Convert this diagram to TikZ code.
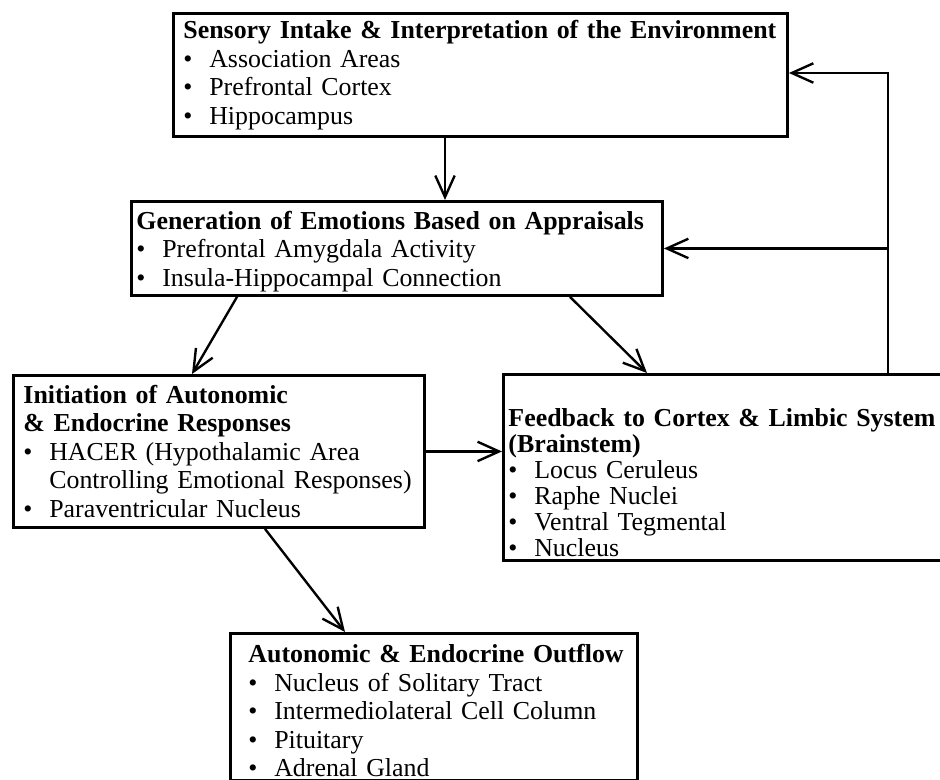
\documentclass[tikz,border=0pt]{standalone}
\usepackage{fontspec}
\setmainfont{Liberation Serif}
\usetikzlibrary{positioning,arrows.meta,calc}
\newlength\px
\setlength\px{0.4637pt}
\newcommand\itm{\makebox[12pt][l]{\textbullet}}
\newcommand\boxfont{\fontsize{12}{13.2}\selectfont\hyphenpenalty=10000 \exhyphenpenalty=10000 }
\newcommand\fbfont{\fontsize{12}{12}\selectfont\hyphenpenalty=10000 \exhyphenpenalty=10000 }

\begin{document}
\begin{tikzpicture}[x=1\px,y=-1\px,>={Straight Barb[length=10pt,width=9pt]},
  box/.style={draw,line width=1.35pt,anchor=north west,align=left,inner xsep=5\px,inner ysep=0pt,font=\boxfont},
  link/.style={->,line width=1.1pt}]
\useasboundingbox (0,0) rectangle (940,780);
\clip (0,0) rectangle (940,780);
\node[box,inner xsep=10\px,text width=594\px,minimum height=123\px] (sens) at (172,12) {\mbox{\textbf{Sensory Intake \& Interpretation of the Environment}}\\ \itm Association Areas\\ \itm Prefrontal Cortex\\ \itm Hippocampus};
\node[box,text width=521\px,minimum height=94\px] (gen) at (130,200) {\rule{0pt}{11pt}\textbf{Generation of Emotions Based on Appraisals}\\ \itm Prefrontal Amygdala Activity\\ \itm Insula-Hippocampal Connection};
\node[box,inner xsep=10\px,text width=391\px,minimum height=152\px] (init) at (12,374) {\textbf{Initiation of Autonomic}\\ \textbf{\& Endocrine Responses}\\ \itm HACER (Hypothalamic Area\\ \hspace*{12pt}\mbox{Controlling Emotional Responses)}\\ \itm Paraventricular Nucleus};
\node[box,text width=450\px,minimum height=186\px,font=\fbfont] (feed) at (502,373) {\rule{0pt}{22.5pt}\textbf{Feedback to Cortex \& Limbic System}\\ \textbf{(Brainstem)}\\ \itm Locus Ceruleus\\ \itm Raphe Nuclei\\ \itm Ventral Tegmental\\ \itm Nucleus};
\node[box,inner xsep=18\px,text width=371\px,minimum height=147\px] (outf) at (229,632) {\rule{0pt}{12pt}\mbox{\textbf{Autonomic \& Endocrine Outflow}}\\ \itm Nucleus of Solitary Tract\\ \itm Intermediolateral Cell Column\\ \itm Pituitary\\ \itm Adrenal Gland};
% main flow
\draw[link] ($(sens.south west)+(273,0)$) -- ($(gen.north west)+(315,0)$);
\draw[link] ($(gen.south west)+(107,0)$) -- ($(init.north west)+(180,0)$);
\draw[link] ($(gen.south west)+(440,0)$) -- ($(feed.north west)+(145,0)$);
\draw[link] (init.east) -- (init.east -| feed.west);
\draw[link] ($(init.south west)+(253,0)$) -- ($(outf.north west)+(116,0)$);
% feedback loop
\coordinate (turn) at (888,73);
\draw[link] (feed.north -| turn) -- (turn) -- (sens.east |- turn);
\draw[link] (gen.east -| turn) -- (gen.east);
\end{tikzpicture}
\end{document}
